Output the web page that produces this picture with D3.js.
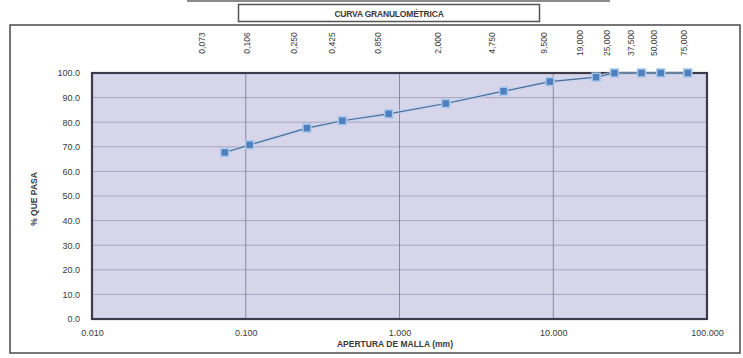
<!DOCTYPE html>
<html>
<head>
<meta charset="utf-8">
<script src="https://cdn.jsdelivr.net/npm/d3@7"></script>
<style>
html,body{margin:0;padding:0;background:#fff;}
svg{display:block;}
text{font-family:"Liberation Sans",Arial,sans-serif;fill:#3a3a3a;}
</style>
</head>
<body>
<svg id="chart" width="743" height="358"></svg>
<script>
// ---- data ----
const sieveSizes = [0.073, 0.106, 0.250, 0.425, 0.850, 2.000, 4.750, 9.500, 19.000, 25.000, 37.500, 50.000, 75.000];
const percentPassing = [67.7, 70.8, 77.6, 80.6, 83.4, 87.6, 92.6, 96.5, 98.3, 100.0, 100.0, 100.0, 100.0];
const sieveLabels = ["0,073", "0,106", "0,250", "0,425", "0,850", "2,000", "4,750", "9,500", "19,000", "25,000", "37,500", "50,000", "75,000"];
const xTickValues = [0.01, 0.1, 1, 10, 100];
const xTickLabels = ["0.010", "0.100", "1.000", "10.000", "100.000"];
const yTickValues = [0, 10, 20, 30, 40, 50, 60, 70, 80, 90, 100];
const yTickLabels = ["0.0", "10.0", "20.0", "30.0", "40.0", "50.0", "60.0", "70.0", "80.0", "90.0", "100.0"];
const chartTitle = "CURVA GRANULOMÉTRICA";
const xTitle = "APERTURA DE MALLA (mm)";
const yTitle = "% QUE PASA";

// ---- layout ----
const svg = d3.select("#chart");
const plot = {left: 92, top: 73, right: 707, bottom: 319};
// horizontal nudges of the header-row sieve labels relative to their sieve (sheet cell placement)
const headerNudge = [-23, -3, -13, -10, -11, -8, -12, -6, -16, -7, -11, -7, -4];

const x = d3.scaleLog().domain([0.01, 100]).range([plot.left, plot.right]);
const y = d3.scaleLinear().domain([0, 100]).range([plot.bottom, plot.top]);

// top grey rule
svg.append("line").attr("x1", 187).attr("x2", 610).attr("y1", 1).attr("y2", 1)
  .attr("stroke", "#8a8a8a").attr("stroke-width", 2);

// title box
svg.append("rect").attr("x", 238.5).attr("y", 4.5).attr("width", 301).attr("height", 17)
  .attr("fill", "#fff").attr("stroke", "#555").attr("stroke-width", 1.5);
svg.append("text").attr("x", 389).attr("y", 16.5).attr("text-anchor", "middle")
  .style("font-size", "8.5px").style("font-weight", "bold").style("letter-spacing", "-0.2px")
  .text(chartTitle);

// outer border
svg.append("rect").attr("x", 10).attr("y", 25).attr("width", 730).attr("height", 328)
  .attr("fill", "none").attr("stroke", "#4a4a4a").attr("stroke-width", 1.5);

// plot background
svg.append("rect").attr("x", plot.left).attr("y", plot.top)
  .attr("width", plot.right - plot.left).attr("height", plot.bottom - plot.top)
  .attr("fill", "#d7d5ea");

// horizontal grid
svg.append("g").selectAll("line").data(yTickValues.slice(1, -1)).join("line")
  .attr("x1", plot.left).attr("x2", plot.right)
  .attr("y1", d => y(d)).attr("y2", d => y(d))
  .attr("stroke", "#a8a3c0").attr("stroke-width", 1);

// vertical grid
svg.append("g").selectAll("line").data(xTickValues.slice(1, -1)).join("line")
  .attr("x1", d => x(d)).attr("x2", d => x(d))
  .attr("y1", plot.top).attr("y2", plot.bottom)
  .attr("stroke", "#8c879f").attr("stroke-width", 1);

// plot border
svg.append("rect").attr("x", plot.left).attr("y", plot.top)
  .attr("width", plot.right - plot.left).attr("height", plot.bottom - plot.top)
  .attr("fill", "none").attr("stroke", "#3c3a48").attr("stroke-width", 2.2);

// y axis
const yAxis = d3.axisLeft(y).tickValues(yTickValues)
  .tickFormat((d, i) => yTickLabels[i]).tickSize(0).tickPadding(12);
const gy = svg.append("g").attr("transform", `translate(${plot.left},0)`).call(yAxis);
gy.select(".domain").remove();
gy.selectAll("text").style("font-size", "9px").style("fill", "#3a3a3a")
  .style("font-family", '"Liberation Sans",Arial,sans-serif');

// x axis
const xAxis = d3.axisBottom(x).tickValues(xTickValues)
  .tickFormat((d, i) => xTickLabels[i]).tickSize(0).tickPadding(11);
const gx = svg.append("g").attr("transform", `translate(0,${plot.bottom})`).call(xAxis);
gx.select(".domain").remove();
gx.selectAll("text").style("font-size", "9px").style("fill", "#3a3a3a")
  .style("font-family", '"Liberation Sans",Arial,sans-serif');

// axis titles
svg.append("text").attr("x", 395).attr("y", 347).attr("text-anchor", "middle")
  .style("font-size", "8.5px").style("font-weight", "bold").text(xTitle);
svg.append("text").attr("transform", "translate(37,199) rotate(-90)").attr("text-anchor", "middle")
  .style("font-size", "8.5px").style("font-weight", "bold").text(yTitle);

// top sieve labels
svg.append("g").selectAll("text").data(sieveSizes).join("text")
  .attr("transform", (d, i) => `translate(${x(d) + headerNudge[i] + 3},43) rotate(-90)`)
  .attr("text-anchor", "middle")
  .style("font-size", "8.5px")
  .text((d, i) => sieveLabels[i]);

// series
const pts = sieveSizes.map((s, i) => [s, percentPassing[i]]);
const line = d3.line().x(d => x(d[0])).y(d => y(d[1]));
svg.append("path").datum(pts).attr("d", line)
  .attr("fill", "none").attr("stroke", "#bcd3ef").attr("stroke-width", 4).attr("stroke-opacity", 0.6);
svg.append("path").datum(pts).attr("d", line)
  .attr("fill", "none").attr("stroke", "#4b6a96").attr("stroke-width", 1.2);

svg.append("g").selectAll("rect").data(pts).join("rect")
  .attr("x", d => x(d[0]) - 4).attr("y", d => y(d[1]) - 4)
  .attr("width", 8).attr("height", 8)
  .attr("fill", "#4f80bd").attr("stroke", "#a9c8ea").attr("stroke-width", 1.5);
</script>
</body>
</html>
